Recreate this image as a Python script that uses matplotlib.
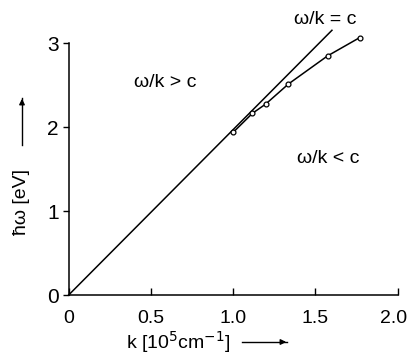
import matplotlib.pyplot as plt
from matplotlib.transforms import ScaledTranslation

plt.rcParams['font.family'] = ['Liberation Sans', 'DejaVu Sans']

# light line omega/k = c : hbar*omega = hbar*c*k
k_light = [0.0, 1.6]
hbar_c = 1.973  # eV per 10^5 cm^-1

# measured points (k in 10^5 cm^-1, hbar omega in eV)
k_data = [1.0, 1.117, 1.198, 1.336, 1.573, 1.769]
e_data = [1.94, 2.167, 2.278, 2.517, 2.851, 3.07]

xticks = [0, 0.5, 1.0, 1.5, 2.0]
xtick_labels = ["0", "0.5", "1.0", "1.5", "2.0"]
yticks = [0, 1, 2, 3]

fig = plt.figure(figsize=(4.08, 3.56), dpi=100)
ax = fig.add_axes([0.168, 0.171, 0.807, 0.707])

ax.plot(k_light, [hbar_c * k for k in k_light], color="black", lw=1.1, clip_on=False)
ax.plot(k_data, e_data, color="black", lw=1.1, marker="o", ms=3.5,
        mfc="white", mec="black", mew=0.9, clip_on=False)

ax.set_xlim(0, 2.0)
ax.set_ylim(0, 3)
ax.spines["top"].set_visible(False)
ax.spines["right"].set_visible(False)
ax.spines["left"].set_linewidth(1.1)
ax.spines["bottom"].set_linewidth(1.1)
ax.set_xticks(xticks)
ax.set_xticklabels(xtick_labels, fontsize=14)
ax.set_yticks(yticks)
ax.set_yticklabels([str(v) for v in yticks], fontsize=15)
ax.tick_params(axis="x", direction="in", length=5, width=1.0, pad=11)
ax.tick_params(axis="y", direction="out", length=4, width=1.0, pad=3)

# pull the last x label in a little so it stays on the page
last = ax.get_xticklabels()[-1]
last.set_transform(last.get_transform() + ScaledTranslation(-4 / 100, 0, fig.dpi_scale_trans))

ax.text(0.585, 2.54, "ω/k > c", fontsize=14, ha="center", va="center")
ax.text(1.558, 3.28, "ω/k = c", fontsize=14, ha="center", va="center")
ax.text(1.576, 1.634, "ω/k < c", fontsize=14, ha="center", va="center")

fig.text(22 / 408, 1 - 202 / 356, "ħω [eV]", rotation=90, fontsize=14,
         ha="center", va="center")
fig.text(178 / 408, 1 - 342 / 356, "k [10$^5$cm$^{-1}$]", fontsize=14,
         ha="center", va="center")
fig.add_artist(plt.Line2D([22 / 408, 22 / 408], [1 - 145 / 356, 1 - 98 / 356],
                          color="black", lw=1.0))
fig.add_artist(plt.Line2D([242 / 408, 287 / 408], [1 - 342 / 356, 1 - 342 / 356],
                          color="black", lw=1.0))
ax.annotate("", xy=(22 / 408, 1 - 96 / 356), xytext=(22 / 408, 1 - 106 / 356),
            xycoords="figure fraction",
            arrowprops=dict(arrowstyle="-|>", color="black", lw=1.0, mutation_scale=8))
ax.annotate("", xy=(289 / 408, 1 - 342 / 356), xytext=(278 / 408, 1 - 342 / 356),
            xycoords="figure fraction",
            arrowprops=dict(arrowstyle="-|>", color="black", lw=1.0, mutation_scale=8))

fig.savefig("out.png", dpi=100)
